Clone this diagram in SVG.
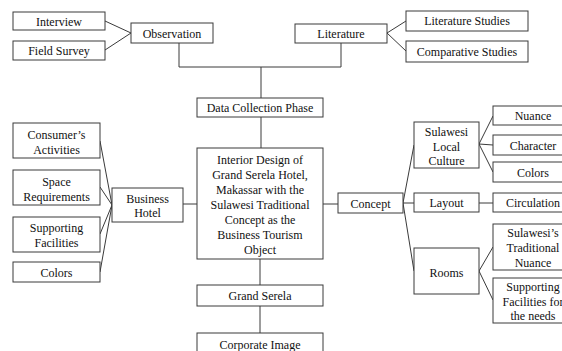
<svg xmlns="http://www.w3.org/2000/svg" width="562" height="351" viewBox="0 0 562 351">
<style>
rect{fill:#fff;stroke:#3a3a3a;stroke-width:1}
text{font-family:"Liberation Serif","Times New Roman","DejaVu Serif",serif;font-size:12px;fill:#111;text-anchor:middle}
.c line,.c polyline{stroke:#3a3a3a;stroke-width:1;fill:none}
</style>
<rect x="0" y="0" width="562" height="351" style="stroke:none;fill:#fff"/>
<g class="c" id="connectors">
<line x1="105" y1="21" x2="131" y2="33"/>
<line x1="105" y1="50" x2="131" y2="33"/>
<polyline points="179,43 179,67 341,67 341,43"/>
<line x1="261" y1="67" x2="261" y2="98"/>
<line x1="387" y1="33" x2="406" y2="21"/>
<line x1="387" y1="33" x2="406" y2="51"/>
<line x1="261" y1="117" x2="261" y2="148"/>
<line x1="260" y1="259" x2="260" y2="285"/>
<line x1="260" y1="306" x2="260" y2="333"/>
<line x1="100" y1="141" x2="112" y2="205"/>
<line x1="100" y1="187" x2="112" y2="205"/>
<line x1="100" y1="234" x2="112" y2="205"/>
<line x1="100" y1="272" x2="112" y2="205"/>
<line x1="183" y1="204" x2="197" y2="204"/>
<line x1="323" y1="204" x2="338" y2="204"/>
<line x1="403" y1="203" x2="414" y2="145"/>
<line x1="403" y1="203" x2="414" y2="203"/>
<line x1="403" y1="203" x2="414" y2="271"/>
<line x1="479" y1="144" x2="493" y2="116"/>
<line x1="479" y1="144" x2="493" y2="145"/>
<line x1="479" y1="144" x2="493" y2="172"/>
<line x1="479" y1="203" x2="493" y2="203"/>
<line x1="479" y1="271" x2="493" y2="247"/>
<line x1="479" y1="271" x2="493" y2="300"/>
</g>
<g id="interview"><rect x="13" y="12" width="92" height="18"/><text x="59" y="25.5">Interview</text></g>
<g id="fieldsurvey"><rect x="13" y="41" width="92" height="19"/><text x="59" y="55">Field Survey</text></g>
<g id="observation"><rect x="131" y="23" width="82" height="20"/><text x="172" y="37.5">Observation</text></g>
<g id="literature"><rect x="295" y="24" width="92" height="19"/><text x="341" y="38">Literature</text></g>
<g id="literaturestudies"><rect x="406" y="11" width="122" height="20"/><text x="467" y="25">Literature Studies</text></g>
<g id="comparativestudies"><rect x="406" y="41" width="122" height="21"/><text x="467" y="55.5">Comparative Studies</text></g>
<g id="datacollection"><rect x="197" y="98" width="126" height="19"/><text x="260" y="112">Data Collection Phase</text></g>
<g id="main"><rect x="197" y="148" width="126" height="111"/>
<text x="260" y="164">Interior Design of</text>
<text x="260" y="179">Grand Serela Hotel,</text>
<text x="260" y="194">Makassar with the</text>
<text x="260" y="209">Sulawesi Traditional</text>
<text x="260" y="224">Concept as the</text>
<text x="260" y="239">Business Tourism</text>
<text x="260" y="254">Object</text></g>
<g id="grandserela"><rect x="197" y="285" width="126" height="21"/><text x="260" y="300">Grand Serela</text></g>
<g id="corporateimage"><rect x="197" y="333" width="126" height="30"/><text x="260" y="348.5">Corporate Image</text></g>
<g id="consumers"><rect x="13" y="123" width="87" height="35"/><text x="56.5" y="139">Consumer’s</text><text x="56.5" y="154">Activities</text></g>
<g id="space"><rect x="13" y="170" width="87" height="35"/><text x="56.5" y="186">Space</text><text x="56.5" y="201">Requirements</text></g>
<g id="supportingL"><rect x="13" y="217" width="87" height="35"/><text x="56.5" y="232">Supporting</text><text x="56.5" y="247">Facilities</text></g>
<g id="colorsL"><rect x="13" y="262" width="87" height="20"/><text x="56.5" y="276.5">Colors</text></g>
<g id="businesshotel"><rect x="112" y="188" width="71" height="34"/><text x="147.5" y="203">Business</text><text x="147.5" y="217">Hotel</text></g>
<g id="concept"><rect x="338" y="193" width="65" height="20"/><text x="370.5" y="207.5">Concept</text></g>
<g id="slc"><rect x="414" y="122" width="65" height="46"/><text x="446.5" y="136">Sulawesi</text><text x="446.5" y="151">Local</text><text x="446.5" y="165">Culture</text></g>
<g id="layout"><rect x="414" y="193" width="65" height="19"/><text x="446.5" y="207">Layout</text></g>
<g id="rooms"><rect x="414" y="248" width="65" height="46"/><text x="446.5" y="277">Rooms</text></g>
<g id="nuance"><rect x="493" y="106" width="80" height="19"/><text x="533" y="120">Nuance</text></g>
<g id="character"><rect x="493" y="135" width="80" height="20"/><text x="533" y="149.5">Character</text></g>
<g id="colorsR"><rect x="493" y="162" width="80" height="20"/><text x="533" y="176.5">Colors</text></g>
<g id="circulation"><rect x="493" y="193" width="80" height="19"/><text x="533" y="207">Circulation</text></g>
<g id="traditionalnuance"><rect x="493" y="224" width="80" height="46"/><text x="533" y="237">Sulawesi’s</text><text x="533" y="252">Traditional</text><text x="533" y="267">Nuance</text></g>
<g id="supportingR"><rect x="493" y="278" width="80" height="45"/><text x="533" y="291">Supporting</text><text x="533" y="306">Facilities for</text><text x="533" y="320">the needs</text></g>
</svg>
